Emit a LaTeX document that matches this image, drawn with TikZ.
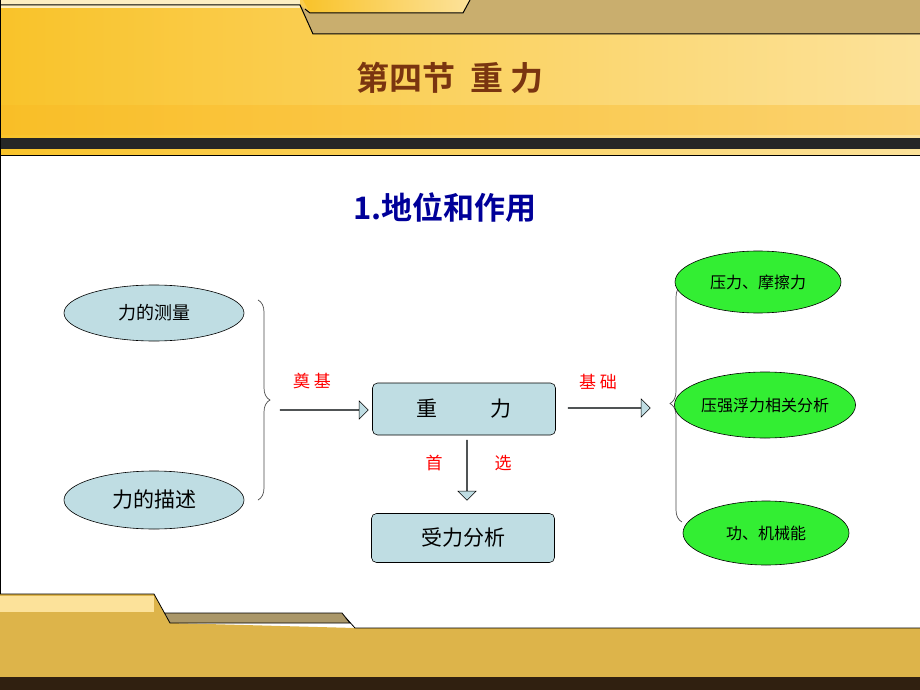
\documentclass[tikz,border=0pt]{standalone}
\usepackage{fontspec}
\setmainfont{Noto Sans CJK SC}
\newfontfamily\cjkb[BoldFont={* Bold}]{Noto Sans CJK SC}
\usetikzlibrary{shapes.geometric,shapes.arrows,decorations.pathreplacing}
\definecolor{gold}{HTML}{F9C32A}
\definecolor{goldL}{HTML}{FCE29A}
\definecolor{tan}{HTML}{C9AE6E}
\definecolor{foot}{HTML}{DDB44A}
\definecolor{bluefill}{HTML}{BFDDE3}
\definecolor{greenfill}{HTML}{33EE33}
\definecolor{titlebrown}{HTML}{7A3510}
\begin{document}
\begin{tikzpicture}[x=1pt,y=-1pt,
  oval/.style={ellipse,draw=black,line width=0.6pt,inner sep=0pt},
  bluebox/.style={rounded corners=5pt,draw=black,fill=bluefill,line width=0.6pt,minimum width=183pt,minimum height=52pt,font=\fontsize{21}{24}\selectfont},
  redlab/.style={text=red,font=\fontsize{17}{19}\selectfont},
  blockarrow/.style={single arrow,draw=black,fill=bluefill,line width=0.6pt,minimum height=82pt,minimum width=18pt,single arrow head extend=7pt,inner sep=0pt},
  brace/.style={decorate,decoration={brace,amplitude=12pt},line width=0.7pt,draw=black!70}]
\useasboundingbox (0,0) rectangle (920,690);
\fill[white] (0,0) rectangle (920,690);
% header
\shade[left color=gold,right color=goldL] (0,0) rectangle (920,155);
\fill[goldL!60!white] (0,0) rectangle (300,8);
\fill[tan] (300,5) -- (313,34) -- (920,34) -- (920,0) -- (470,0) -- (463,13) -- (310,13) -- cycle;
\shade[left color=gold,right color=goldL] (303,0) -- (310,13) -- (463,13) -- (470,0) -- cycle;
\draw[line width=1pt] (0,5) -- (300,5) -- (313,34) -- (920,34);
\draw[line width=1pt] (305,9) -- (310,13) -- (463,13) -- (470,0);
\fill[gold!80!orange, opacity=0.35] (0,105) rectangle (920,135);
\fill[black!85] (0,138) rectangle (920,149);
\draw[line width=0.8pt] (0,155) -- (920,155);
\draw (0,0) -- (0,690);
\node (title) at (450,78) {\textcolor{titlebrown}{\cjkb\bfseries\fontsize{33}{38}\selectfont 第四节\ \ 重\ 力}};
% footer
\fill[foot] (0,594) -- (154,594) -- (170,623) -- (355,628) -- (920,628) -- (920,690) -- (0,690) -- cycle;
\fill[goldL] (0,596) rectangle (154,612);
\fill[tan!80!black!90] (165,613) -- (342,613) -- (350,623) -- (170,623) -- cycle;
\draw[line width=0.8pt] (0,594) -- (154,594) -- (170,623) -- (350,623) -- (342,613) -- (165,613);
\draw[line width=0.8pt] (346,618) -- (355,628) -- (920,628);
\fill[black!75!brown] (0,677) rectangle (920,690);
% content
\node (sub) at (445,208) {\textcolor{blue!60!black}{\cjkb\bfseries\fontsize{31}{36}\selectfont 1.地位和作用}};
\node[oval,fill=bluefill,minimum width=180pt,minimum height=56pt,font=\fontsize{18}{20}\selectfont] (m1) at (154,313) {力的测量};
\node[oval,fill=bluefill,minimum width=180pt,minimum height=58pt,font=\fontsize{21}{24}\selectfont] (m2) at (154,500) {力的描述};
\node[bluebox] (g) at (464,409) {重\hspace{2.5em}力};
\node[bluebox,minimum height=49pt] (s) at (463,538) {受力分析};
\node[blockarrow,minimum height=88pt] (a1) at (324,410) {};
\node[blockarrow] (a2) at (609,408) {};
\node[blockarrow,rotate=-90,minimum height=60pt] (a3) at (467,470) {};
\node[redlab] (l1) at (312,381) {奠\ 基};
\node[redlab] (l2) at (598,382) {基\ 础};
\node[redlab] (l3) at (434,463) {首};
\node[redlab] (l4) at (503,463) {选};
\coordinate (b1t) at (258,300);
\coordinate (b1b) at (258,500);
\draw[brace] (b1t) -- (b1b);
\coordinate (b2t) at (682,285);
\coordinate (b2b) at (682,522);
\draw[brace] (b2b) -- (b2t);
\node[oval,fill=greenfill,minimum width=166pt,minimum height=62pt,font=\fontsize{16}{19}\selectfont] (r1) at (758,282) {压力、摩擦力};
\node[oval,fill=greenfill,minimum width=168pt,minimum height=66pt,font=\fontsize{16}{19}\selectfont] (r2) at (765,405) {压强浮力相关分析};
\node[oval,fill=greenfill,minimum width=166pt,minimum height=64pt,font=\fontsize{16}{19}\selectfont] (r3) at (766,533) {功、机械能};
\end{tikzpicture}
\end{document}
